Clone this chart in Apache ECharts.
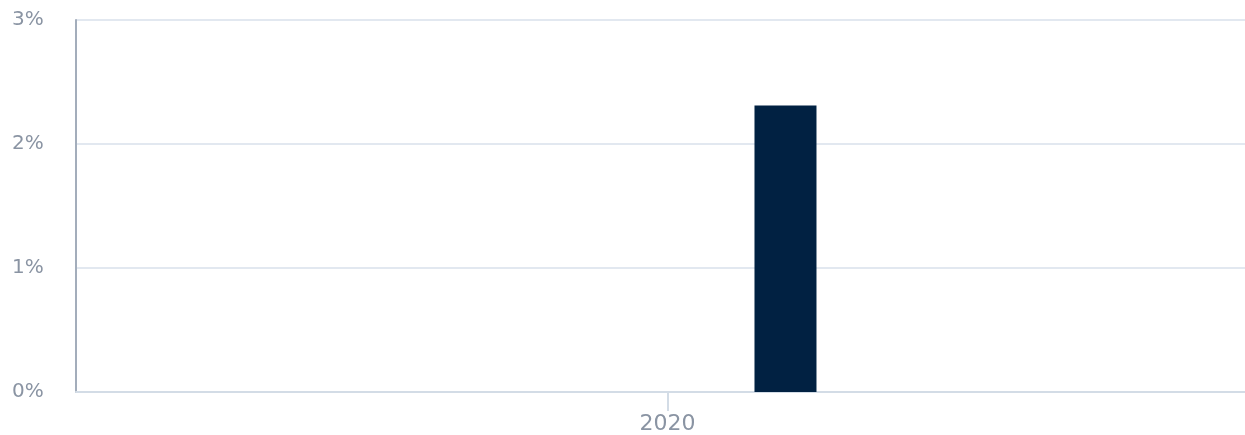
<!DOCTYPE html>
<html><head><meta charset="utf-8">
<script src="https://cdn.jsdelivr.net/npm/echarts@6/dist/echarts.min.js"></script>
<style>html,body{margin:0;padding:0;background:#fff;overflow:hidden}#wrap{width:1245px;height:435px;overflow:hidden}#c{width:1259px;height:435px}</style>
</head><body><div id="wrap"><div id="c"></div></div>
<script>
const categories = ['2020'];
const seriesA = [null];
const seriesB = [2.31];
const yTicks = [0, 1, 2, 3];

const chart = echarts.init(document.getElementById('c'), null, {renderer: 'canvas'});
chart.setOption({
  animation: false,
  grid: {left: 76, right: 0, top: 20, bottom: 42},
  xAxis: {
    type: 'category', data: categories,
    axisLine: {lineStyle: {color: '#d3dce6', width: 2}},
    axisTick: {show: true, alignWithLabel: true, length: 19, lineStyle: {color: '#d3dce6', width: 2}},
    axisLabel: {color: '#8a94a3', fontSize: 22, fontFamily: 'DejaVu Sans', margin: 21}
  },
  yAxis: {
    type: 'value', min: yTicks[0], max: yTicks[yTicks.length - 1], interval: 1,
    axisLine: {show: true, lineStyle: {color: '#a3adbb', width: 2}},
    axisTick: {show: false},
    splitLine: {lineStyle: {color: '#e2e8f0', width: 2}},
    axisLabel: {color: '#8a94a3', fontSize: 20, fontFamily: 'DejaVu Sans', align: 'left', margin: 64,
      padding: [3, 0, 0, 0], formatter: v => v + '%'}
  },
  series: [
    {type: 'bar', data: seriesA, barWidth: 62, barGap: '280.6%', itemStyle: {color: '#5a6b85'}},
    {type: 'bar', data: seriesB, barWidth: 62, barGap: '280.6%', itemStyle: {color: '#012142'}}
  ]
});
</script></body></html>
